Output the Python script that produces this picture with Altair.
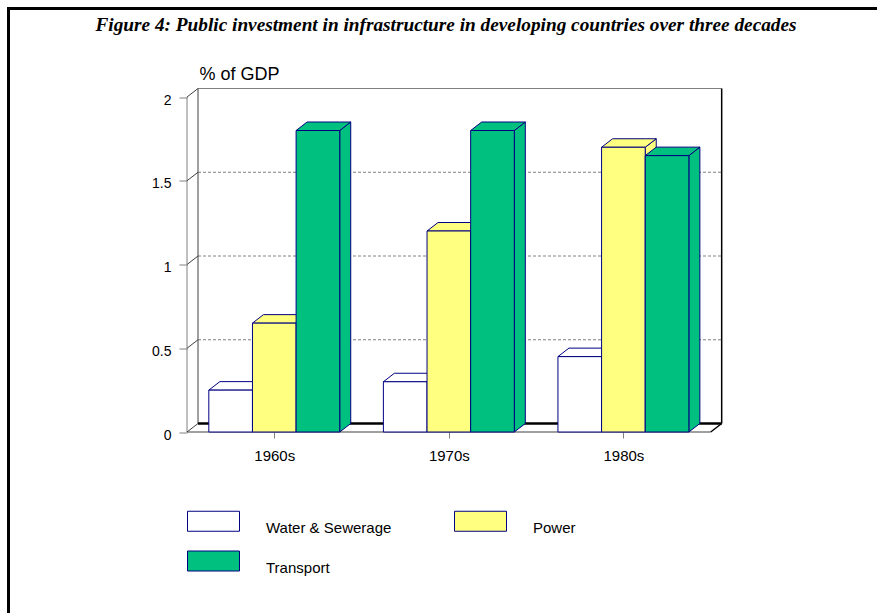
import altair as alt
import pandas as pd

# ---- data ----
decades = ["1960s", "1970s", "1980s"]
series = ["Water & Sewerage", "Power", "Transport"]
water = [0.25, 0.30, 0.45]
power = [0.65, 1.20, 1.70]
transport = [1.80, 1.80, 1.65]
y_ticks = [0, 0.5, 1, 1.5, 2]
y_grid = [0.5, 1, 1.5]
colors = ["#FFFFFF", "#FFFF80", "#00C080"]
title_text = "Figure 4: Public investment in infrastructure in developing countries over three decades"
y_title = "% of GDP"

# ---- geometry / style constants ----
PX_SLOT = 43.64          # pixels per bar slot
PX_UNIT = 167.5          # pixels per 1 % of GDP
DX = 11 / PX_SLOT        # 3-D depth, horizontal (in slot units)
DY = 8.5 / PX_UNIT       # 3-D depth, vertical (in value units)
X_MIN, X_MAX = -0.5, 11.5
Y_MAX = 2
W = (X_MAX + DX - X_MIN) * PX_SLOT
H = (Y_MAX + DY) * PX_UNIT
LEFT = 187
TOP = 432 - H
PAGE_W, PAGE_H = 877, 613
NAVY = "#000080"

values = [water, power, transport]

front_rows, top_rows, side_rows = [], [], []
for i, dec in enumerate(decades):
    for j, s in enumerate(series):
        v = values[j][i]
        x0 = 4 * i + j
        x1 = x0 + 1
        pid = f"{dec}-{s}"
        front_rows.append({"series": s, "x": x0, "x2": x1, "lo": 0, "hi": v})
        for x, lo, hi in [(x0, v, v), (x0 + DX, v, v + DY), (x1, v, v + DY), (x1 + DX, v + DY, v + DY)]:
            top_rows.append({"id": pid, "series": s, "x": x, "lo": lo, "hi": hi})
        for x, lo, hi in [(x1, 0, v), (x1 + DX, DY, v + DY)]:
            side_rows.append({"id": pid, "series": s, "x": x, "lo": lo, "hi": hi})

fronts = pd.DataFrame(front_rows)
tops = pd.DataFrame(top_rows)
sides = pd.DataFrame(side_rows)

floor = pd.DataFrame([
    {"x": X_MIN, "lo": 0, "hi": 0},
    {"x": X_MIN + DX, "lo": 0, "hi": DY},
    {"x": X_MAX, "lo": 0, "hi": DY},
    {"x": X_MAX + DX, "lo": DY, "hi": DY},
])

grid = pd.DataFrame([{"x": X_MIN + DX, "x2": X_MAX + DX, "lo": g + DY, "hi": g + DY} for g in y_grid])
gray_lines = pd.DataFrame(
    [{"x": X_MIN + DX, "x2": X_MAX + DX, "lo": Y_MAX + DY, "hi": Y_MAX + DY},
     {"x": X_MIN, "x2": X_MIN, "lo": 0, "hi": Y_MAX}]
)
dark_lines = pd.DataFrame(
    [{"x": X_MIN + DX, "x2": X_MIN + DX, "lo": DY, "hi": Y_MAX + DY},
     {"x": X_MIN, "x2": X_MAX, "lo": 0, "hi": 0}]
    + [{"x": X_MIN, "x2": X_MIN + DX, "lo": t, "hi": t + DY} for t in y_ticks]
)
black_lines = pd.DataFrame(
    [{"x": X_MAX + DX, "x2": X_MAX + DX, "lo": DY, "hi": Y_MAX + DY},
     {"x": X_MAX, "x2": X_MAX + DX, "lo": 0, "hi": DY}]
)
back_edge = pd.DataFrame([{"x": X_MIN + DX, "x2": X_MAX + DX, "lo": DY, "hi": DY}])

xscale = alt.Scale(domain=[X_MIN, X_MAX + DX], nice=False, zero=False)
yscale = alt.Scale(domain=[0, Y_MAX + DY], nice=False, zero=False)
fill_scale = alt.Scale(domain=series, range=colors)

centers = [4 * i + 1.5 for i in range(len(decades))]
label_expr = "[" + ",".join(f"'{d}'" for d in decades) + f"][round((datum.value - {centers[0]}) / 4)]"

x_axis = alt.Axis(values=centers, labelExpr=label_expr, title=None, grid=False, domain=False,
                  ticks=True, tickSize=6, tickColor="#808080", labelFont="Liberation Sans",
                  labelFontSize=15, labelColor="black", labelPadding=10, labelBaseline="top")
y_axis = alt.Axis(values=y_ticks, format=".1~f", grid=False, domain=False, tickSize=8,
                  tickColor="#808080", labelFont="Liberation Sans", labelFontSize=14,
                  labelColor="black", labelPadding=8, labelOffset=3,
                  title=y_title, titleAngle=0, titleAlign="left", titleBaseline="alphabetic",
                  titleX=12, titleY=-9.5, titleFont="Liberation Sans", titleFontSize=18,
                  titleFontWeight="normal", titleColor="black")

legend = alt.Legend(title=None, orient="none", legendX=16, legendY=422, columns=2,
                    direction="horizontal",
                    symbolType="M-2.6,-1H2.6V1H-2.6Z", symbolSize=400,
                    symbolStrokeColor=NAVY, symbolStrokeWidth=1, symbolOpacity=1,
                    labelFont="Liberation Sans", labelFontSize=15, labelColor="black",
                    labelOffset=42, rowPadding=12, columnPadding=60, labelBaseline="top",
                    labelLimit=400)

X = alt.X("x:Q", scale=xscale, axis=x_axis)
Y = alt.Y("lo:Q", scale=yscale, axis=y_axis, stack=None)
FILL = alt.Fill("series:N", scale=fill_scale, legend=legend, sort=series)


def seg_layer(df, color, width, dash=None):
    kw = dict(color=color, strokeWidth=width)
    if dash:
        kw["strokeDash"] = dash
    return alt.Chart(df).mark_rule(**kw).encode(x=X, x2="x2:Q", y=Y, y2="hi:Q")


floor_layer = alt.Chart(floor).mark_area(color="white", opacity=1).encode(x=X, y=Y, y2="hi:Q")

side_layer = alt.Chart(sides).mark_area(stroke=NAVY, strokeWidth=1, opacity=1).encode(
    x=X, y=Y, y2="hi:Q", detail="id:N", fill=FILL)

top_layer = alt.Chart(tops).mark_area(stroke=NAVY, strokeWidth=1, opacity=1).encode(
    x=X, y=Y, y2="hi:Q", detail="id:N", fill=FILL)

front_layer = alt.Chart(fronts).mark_rect(stroke=NAVY, strokeWidth=1, opacity=1).encode(
    x=X, x2="x2:Q", y=Y, y2="hi:Q", fill=FILL)

one = pd.DataFrame({"t": [title_text]})
title_layer = alt.Chart(one).mark_text(
    font="Liberation Serif", fontSize=19.3, fontStyle="italic", fontWeight="bold",
    align="center", baseline="alphabetic", color="black").encode(
    text="t:N", x=alt.value(446 - LEFT), y=alt.value(31 - TOP))

frame_left = alt.Chart(one).mark_rule(color="black", strokeWidth=3).encode(
    x=alt.value(8.5 - LEFT), y=alt.value(7 - TOP), y2=alt.value(PAGE_H - TOP))
frame_top = alt.Chart(one).mark_rule(color="black", strokeWidth=3).encode(
    y=alt.value(8.5 - TOP), x=alt.value(7 - LEFT), x2=alt.value(PAGE_W - LEFT))

chart = alt.layer(
    floor_layer,
    seg_layer(grid, "#808080", 1, [3, 2]),
    seg_layer(gray_lines, "#808080", 1),
    seg_layer(dark_lines, "#404040", 1),
    seg_layer(black_lines, "black", 1.5),
    seg_layer(back_edge, "black", 2.5),
    side_layer,
    top_layer,
    front_layer,
    title_layer,
    frame_left,
    frame_top,
).properties(
    width=W, height=H,
    padding={"left": LEFT, "top": TOP, "right": PAGE_W - LEFT - W, "bottom": PAGE_H - TOP - H},
    autosize=alt.AutoSizeParams(type="none"),
    background="white",
).configure_view(stroke=None)

chart.save("out.html", embed_options={"renderer": "svg", "actions": False})
